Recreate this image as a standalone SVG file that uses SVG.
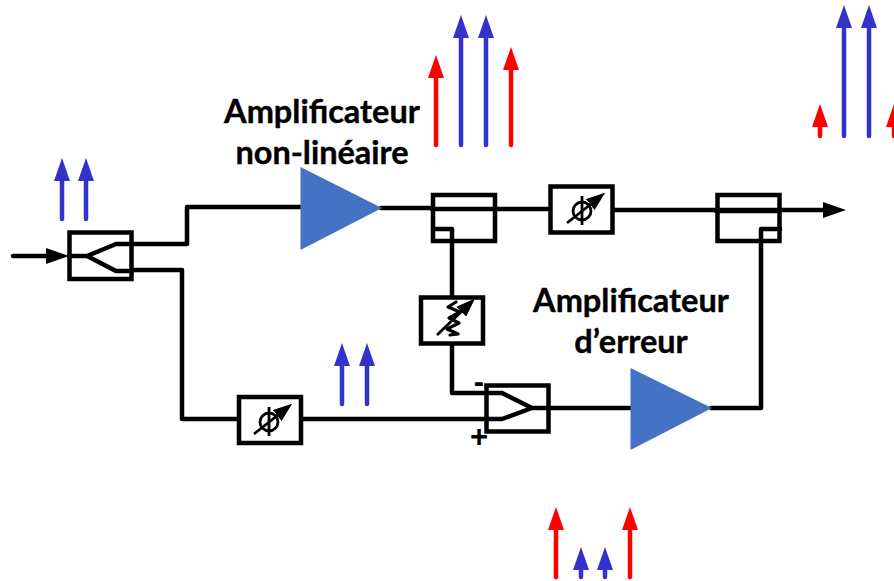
<svg xmlns="http://www.w3.org/2000/svg" width="894" height="581" viewBox="0 0 894 581">
<style>
.w{fill:none;stroke:#000;stroke-width:4.500;stroke-linecap:round;stroke-linejoin:round}
.box{fill:#fff;stroke:#000;stroke-width:4.500}
.open{fill:none;stroke:#000;stroke-width:4.500}
.th{fill:none;stroke:#000;stroke-width:2.800}
.tri{fill:#4472C4}
.b{stroke:#3333CC;stroke-width:4.500;stroke-linecap:round;marker-end:url(#hb)}
.r{stroke:#FF0000;stroke-width:4.500;stroke-linecap:round;marker-end:url(#hr)}
.t{font-family:Lato,"Liberation Sans",sans-serif;font-weight:700;font-size:32.500px;fill:#000;text-anchor:middle;stroke:#000;stroke-width:.4}
.s{font-family:"Liberation Sans",sans-serif;font-weight:700;font-size:31px;fill:#000;text-anchor:middle}
</style>
<defs>
<marker id="hb" markerUnits="userSpaceOnUse" markerWidth="24" markerHeight="16" refX="0" refY="8" orient="auto"><path d="M0 0L23 8L0 16Z" fill="#3333CC"/></marker>
<marker id="hr" markerUnits="userSpaceOnUse" markerWidth="24" markerHeight="16" refX="0" refY="8" orient="auto"><path d="M0 0L23 8L0 16Z" fill="#FF0000"/></marker>
<marker id="hk" markerUnits="userSpaceOnUse" markerWidth="24" markerHeight="16" refX="0" refY="8" orient="auto"><path d="M0 0L23 8L0 16Z" fill="#000"/></marker>
<marker id="hs" markerUnits="userSpaceOnUse" markerWidth="20" markerHeight="14" refX="1" refY="7" orient="auto"><path d="M0 0L19 7L0 14Z" fill="#000"/></marker>
<g id="phase"><circle cx="0" cy="0" r="9" class="th"/><path d="M0 -15V14" class="th"/><path d="M-15 12L9 -7" class="th" marker-end="url(#hs)"/></g>
</defs>
<g id="connectors">
<path class="w" d="M13 256H46" marker-end="url(#hk)"/>
<path class="w" d="M132 244H187V207H303"/>
<path class="w" d="M132 270H182V419H238"/>
<path class="w" d="M381 208L432 208"/>
<path class="w" d="M495 209H550"/>
<path class="w" d="M613 210H823" marker-end="url(#hk)"/>
<path class="w" d="M452 242V297"/>
<path class="w" d="M452 344V393H487"/>
<path class="w" d="M301 419H487"/>
<path class="w" d="M548 408H632"/>
<path class="w" d="M711 408H761V242"/>
</g>
<g id="splitter">
<rect class="box" x="69.500" y="232.500" width="62" height="46.500"/>
<path class="w" d="M69 256H87L116 244H132M87 256L116 271H132"/>
</g>
<g id="amp-nl"><path class="tri" d="M300.500 167L382 208L300.500 250Z"/></g>
<g id="coupler-1">
<rect class="open" x="433" y="195" width="62" height="46"/>
<path class="w" d="M432 209H495M433 229H452V242"/>
</g>
<g id="phase-top">
<rect class="box" x="550.500" y="186.500" width="62" height="46"/>
<use href="#phase" x="582" y="211"/>
</g>
<g id="coupler-2">
<rect class="open" x="717.500" y="195" width="62" height="46"/>
<path class="w" d="M716 211H780M780 229H761V242"/>
</g>
<g id="phase-bottom">
<rect class="box" x="239" y="397" width="62" height="46"/>
<use href="#phase" x="269" y="422"/>
</g>
<g id="attenuator">
<rect class="box" x="421" y="297.500" width="62" height="46"/>
<path class="w" style="stroke-width:3.200" d="M456 302L448 307L460 312L449 318L459 323L447 329L458 334L450 335"/>
<path class="th" d="M437 335L462 311" marker-end="url(#hs)"/>
</g>
<g id="subtractor">
<rect class="box" x="486.500" y="385.500" width="62" height="46"/>
<path class="w" d="M487 393H502L532 408L502 419H487M532 408H548"/>
<text class="s" x="479" y="392">-</text>
<text class="s" x="479" y="447">+</text>
</g>
<g id="amp-err"><path class="tri" d="M630.500 368L712 408L630.500 450Z"/></g>
<g id="labels">
<text class="t" x="322" y="123">Amplificateur</text>
<text class="t" x="322" y="164">non-linéaire</text>
<text class="t" x="631" y="312">Amplificateur</text>
<text class="t" x="631" y="353">d’erreur</text>
</g>
<g id="spectra">
<path class="b" d="M62 219V181"/><path class="b" d="M86 219V181"/>
<path class="r" d="M436 145V78"/><path class="b" d="M461 145V38"/><path class="b" d="M486 145V38"/><path class="r" d="M511 145V70"/>
<path class="r" d="M820 136V127"/><path class="b" d="M844 136V28"/><path class="b" d="M869 136V28"/><path class="r" d="M894 136V127"/>
<path class="b" d="M342 404V366"/><path class="b" d="M367 404V366"/>
<path class="r" d="M556 577V530"/><path class="b" d="M581 577V570"/><path class="b" d="M605 577V570"/><path class="r" d="M630 577V530"/>
</g>
</svg>
